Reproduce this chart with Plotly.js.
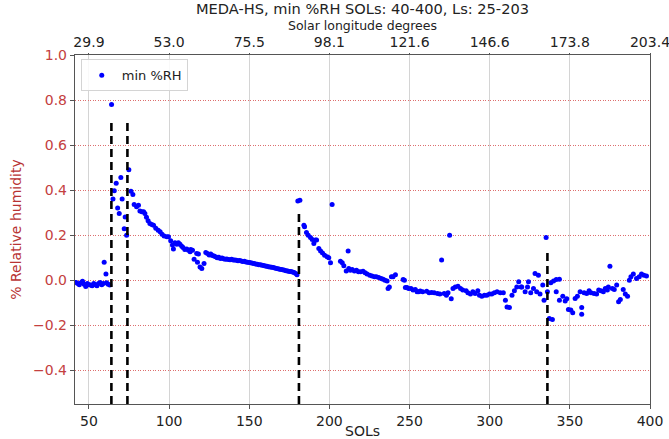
<!DOCTYPE html>
<html>
<head>
<meta charset="utf-8">
<script src="https://cdn.plot.ly/plotly-3.0.1.min.js"></script>
<style>html,body{margin:0;padding:0;background:#fff;}#chart{width:669px;height:439px;}</style>
</head>
<body>
<div id="chart"></div>
<script>
// SOL values and min %RH readings
const sols = [
42,43,44,45,46,47,48,49,50,51,52,53,54,55,56,57,58,59,59.5,60.6,61,62,63,
64.1,65,65.8,67,67.9,68.9,69.9,70.7,72,72.6,73.5,74.9,76.2,77.4,78.2,79.7,80.9,81.8,83,84.1,84.9,85.9,86.9,88,89.2,90.3,91.7,93.2,94.4,95.6,96.9,98.6,99.6,
101,102.1,102.7,103.7,104.8,105.8,106.8,107.9,108.7,109.8,111,112.1,113.1,113.5,114.6,115.6,117.2,117.7,118.3,119.3,120.4,121.8,122.9,123.9,
125,126,127,128,129,130,131,132,133,134,135,136,137,138,139,140,141,142,143,144,145,146,147,148,149,150,151,152,153,154,155,156,157,158,159,160,
161,162,163,164,165,166,167,168,169,170,171,172,173,174,175,176,177,178,179,179.8,180.3,181.6,
184.1,184.5,185.7,186.8,188.2,189.3,190.3,191.3,192,193.4,194.5,195.7,197,198.6,199.6,200.7,201.7,206.9,208,209,210.5,211.7,212.1,213.1,214.2,215.6,216.9,218.1,219.4,
221,222.3,223.5,225.2,226.6,228.1,229.3,230.8,232.3,233.5,234.7,236,236.6,237.4,238.7,239.7,241.2,246,246.8,247.4,248.4,249.4,250.9,252.2,253.6,254.7,255.7,
256.7,258.2,260.7,262.2,263.8,265.4,267.4,268.9,270,271.6,273,274,275,276,277.1,278.5,280.2,281.8,283.2,285.3,286.4,288,289.5,290.9,292.6,293.6,295.1,296.7,298.2,299.8,
301.3,302.9,304.6,306.6,308.5,309.8,310.8,312.3,313.9,315.4,316.9,318.1,319.6,
320,322.1,323.6,324.2,325.6,327.3,328.3,330.4,329.3,331.4,333.1,333.9,335.2,336,337.2,339.1,338.1,339.8,341.5,343.5,341.5,343.5,345.6,347.1,348.1,349.1,350.6,351.8,
353.3,354.7,356.4,357.4,357.4,358.9,360.5,362,363.2,365.1,366.7,368,369.4,370.9,372.1,373.4,374,375,376.5,377.7,379.2,380.4,381.5,383.3,384.6,386,387.1,388.1,389.6,
391.6,393.3,394.7,396.2,397.8
];
const minRH = [
-0.010,-0.015,-0.020,-0.012,-0.005,-0.018,-0.028,-0.015,-0.020,-0.022,-0.025,-0.015,-0.020,-0.025,-0.015,-0.010,-0.020,-0.015,0.080,0.027,-0.012,-0.018,-0.022,
0.78,0.36,0.397,0.43,0.32,0.296,0.456,0.36,0.228,0.28,0.20,0.49,0.395,0.38,0.336,0.326,0.333,0.307,0.304,0.304,0.296,0.279,0.264,0.252,0.247,0.244,0.23,0.222,0.215,0.204,0.196,0.193,0.193,
0.175,0.156,0.138,0.166,0.160,0.166,0.159,0.151,0.145,0.136,0.138,0.133,0.126,0.136,0.133,0.093,0.118,0.079,0.116,0.059,0.052,0.074,0.123,0.118,
0.112,0.116,0.110,0.107,0.104,0.100,0.102,0.096,0.098,0.095,0.093,0.094,0.092,0.091,0.093,0.090,0.089,0.088,0.086,0.087,0.085,0.083,0.084,0.081,0.080,0.078,0.077,0.075,0.074,0.072,0.071,0.069,0.068,0.066,0.065,0.063,
0.062,0.060,0.058,0.057,0.056,0.054,0.052,0.051,0.049,0.047,0.046,0.044,0.042,0.041,0.039,0.038,0.036,0.034,0.030,0.024,0.352,0.355,
0.244,0.237,0.212,0.200,0.190,0.181,0.163,0.178,0.178,0.141,0.130,0.121,0.111,0.104,0.100,0.077,0.336,0.084,0.077,0.064,0.041,0.130,0.052,0.044,0.047,0.041,0.044,0.037,0.037,
0.040,0.033,0.027,0.022,0.019,0.015,0.015,0.012,0.007,0.004,0.000,-0.004,-0.037,-0.030,0.015,0.015,0.024,0.003,0.000,-0.033,-0.033,-0.037,-0.037,-0.044,-0.041,-0.052,-0.052,
-0.048,-0.052,-0.049,-0.056,-0.055,-0.056,-0.059,-0.062,0.089,-0.059,-0.067,-0.056,0.200,-0.083,-0.037,-0.030,-0.027,-0.037,-0.044,-0.047,-0.056,-0.062,-0.052,-0.059,-0.047,-0.067,-0.071,-0.067,-0.067,-0.062,
-0.062,-0.056,-0.052,-0.056,-0.056,-0.089,-0.119,-0.121,-0.067,-0.047,-0.030,-0.007,-0.030,
-0.030,-0.052,-0.030,-0.007,-0.056,-0.037,0.030,0.022,-0.052,-0.062,-0.022,-0.089,0.190,-0.052,-0.170,-0.175,-0.012,-0.004,0.003,0.004,-0.052,-0.089,-0.071,-0.092,-0.083,-0.130,-0.133,-0.145,
-0.081,-0.071,-0.052,-0.121,-0.151,-0.056,-0.059,-0.047,-0.056,-0.059,-0.062,-0.044,-0.047,-0.052,-0.037,-0.044,-0.030,0.062,-0.037,-0.041,-0.022,-0.096,-0.086,-0.041,-0.062,-0.071,0.000,0.015,0.027,
0.007,0.015,0.027,0.022,0.018
];

// Event markers (dashed vertical lines)
const eventSols = [64, 74, 181, 336];
const eventTops = [0.71, 0.71, 0.30, 0.13];

// Axis ticks
const solTicks = [50, 100, 150, 200, 250, 300, 350, 400];
const lsLabels = ['29.9', '53.0', '75.5', '98.1', '121.6', '146.6', '173.8', '203.4'];
const rhTicks = [1.0, 0.8, 0.6, 0.4, 0.2, 0.0, -0.2, -0.4];

const xRange = [41.3, 400];
const yRange = [-0.55, 1.0];
const redTick = '#c44040';
const redTitle = '#b83333';
const FF = 'DejaVu Sans, sans-serif';

const traces = [];
traces.push({
  x: sols, y: minRH, type: 'scatter', mode: 'markers', name: 'min %RH',
  marker: {color: '#0000ff', size: 5}, hoverinfo: 'x+y'
});
eventSols.forEach((s, i) => {
  traces.push({
    x: [s, s], y: [yRange[0], eventTops[i]], type: 'scatter', mode: 'lines',
    line: {color: '#000', width: 2.6, dash: '8px,5px'}, showlegend: false, hoverinfo: 'skip'
  });
});
traces.push({
  x: solTicks, y: solTicks.map(() => null), xaxis: 'x2', type: 'scatter', mode: 'markers',
  marker: {opacity: 0}, showlegend: false, hoverinfo: 'skip'
});

const layout = {
  width: 669, height: 439,
  margin: {l: 75, r: 19, t: 55, b: 35},
  paper_bgcolor: '#fff', plot_bgcolor: '#fff',
  font: {family: FF, size: 14, color: '#222'},
  title: {text: 'MEDA-HS, min %RH SOLs: 40-400, Ls: 25-203', x: 0.5, xref: 'paper', y: 0.992, yanchor: 'top',
          font: {family: FF, size: 14.6, color: '#222'}},
  showlegend: true,
  legend: {x: 0.01, y: 0.988, xanchor: 'left', yanchor: 'top', bgcolor: 'rgba(255,255,255,0.85)',
           bordercolor: '#d4d4d4', borderwidth: 1, itemwidth: 30,
           font: {family: FF, size: 13, color: '#222'}},
  annotations: [{
    text: 'Solar longitude degrees', xref: 'paper', yref: 'paper', x: 0.5, y: 1 + 29 / 349,
    xanchor: 'center', yanchor: 'middle', showarrow: false, borderpad: 0,
    font: {family: FF, size: 12.5, color: '#222'}
  }],
  xaxis: {
    range: xRange, tickvals: solTicks, ticks: 'outside', ticklen: 4, tickcolor: '#555',
    showline: true, linecolor: '#555', linewidth: 1.2, mirror: false,
    showgrid: true, gridcolor: '#d4d4d4', gridwidth: 1, zeroline: false,
    tickfont: {family: FF, size: 14, color: '#222'},
    title: {text: 'SOLs', standoff: 0, font: {family: FF, size: 14, color: '#222'}}
  },
  xaxis2: {
    overlaying: 'x', side: 'top', range: xRange, tickvals: solTicks, ticktext: lsLabels,
    ticks: 'outside', ticklen: 1, tickcolor: '#555', showline: true, linecolor: '#555', linewidth: 1.2,
    showgrid: false, zeroline: false, ticklabeloverflow: 'allow',
    tickfont: {family: FF, size: 14, color: '#222'}
  },
  yaxis: {
    range: yRange, tickvals: rhTicks, tickformat: '.1f', ticks: 'outside', ticklen: 4, tickcolor: '#555',
    showline: true, linecolor: '#555', linewidth: 1.2, mirror: true,
    showgrid: true, gridcolor: '#dd6e6e', gridwidth: 1, griddash: '1px,1.5px', zeroline: false,
    tickfont: {family: FF, size: 14, color: redTick},
    title: {text: '% Relative humidity', standoff: 8, font: {family: FF, size: 14, color: redTitle}}
  }
};

Plotly.newPlot('chart', traces, layout, {displayModeBar: false, staticPlot: true});
</script>
</body>
</html>
